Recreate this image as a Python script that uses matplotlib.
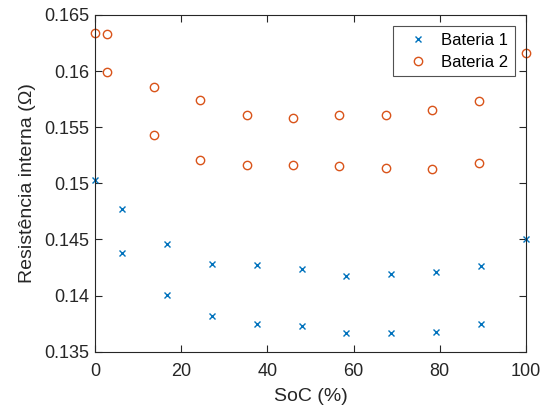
import matplotlib
matplotlib.use("Agg")
import matplotlib.pyplot as plt
from matplotlib.ticker import FuncFormatter

plt.rcParams['font.family'] = ['Liberation Sans', 'DejaVu Sans']

# Internal resistance vs state of charge, two measurement passes per battery
soc_b1 = [0, 6.2, 6.2, 16.6, 16.6, 27.1, 27.1, 37.5, 37.5, 48.0, 48.0,
          58.3, 58.3, 68.7, 68.7, 79.1, 79.1, 89.5, 89.5, 100]
r_b1 = [0.1503, 0.14774, 0.14376, 0.1446, 0.14005, 0.14281, 0.13821,
        0.14272, 0.13747, 0.14237, 0.13732, 0.14172, 0.13669, 0.14192,
        0.13667, 0.14213, 0.13673, 0.14264, 0.13744, 0.14504]

soc_b2 = [0, 2.8, 2.8, 13.6, 13.6, 24.4, 24.4, 35.2, 35.2, 46.0, 46.0,
          56.7, 56.7, 67.5, 67.5, 78.3, 78.3, 89.2, 89.2, 100]
r_b2 = [0.16337, 0.16331, 0.15995, 0.15861, 0.15431, 0.15745, 0.15211,
        0.15606, 0.15161, 0.15585, 0.15161, 0.15606, 0.15155, 0.15609,
        0.1514, 0.15656, 0.1513, 0.15736, 0.15184, 0.16164]

x_ticks = [0, 20, 40, 60, 80, 100]
y_ticks = [0.135, 0.14, 0.145, 0.15, 0.155, 0.16, 0.165]

fig = plt.figure(figsize=(5.51, 4.12), dpi=100)
ax = fig.add_axes([0.1724, 0.1464, 0.9546 - 0.1724, 0.9636 - 0.1464])

ax.plot(soc_b1, r_b1, linestyle='none', marker='x', markersize=5,
        markeredgewidth=1.0, color='#0072BD', label='Bateria 1', clip_on=False)
ax.plot(soc_b2, r_b2, linestyle='none', marker='o', markersize=6,
        markerfacecolor='none', markeredgewidth=1.0, color='#D95319',
        label='Bateria 2', clip_on=False)

ax.set_xlim(0, 100)
ax.set_ylim(0.135, 0.165)
ax.set_xticks(x_ticks)
ax.set_yticks(y_ticks)
ax.yaxis.set_major_formatter(FuncFormatter(lambda v, p: f"{v:g}"))

axis_color = '#262626'
for s in ax.spines.values():
    s.set_color(axis_color)
    s.set_linewidth(0.8)
ax.tick_params(direction='in', top=True, right=True, length=5, width=0.8,
               colors=axis_color, labelsize=13)
ax.tick_params(axis='x', pad=8)
ax.tick_params(axis='y', pad=4)

ax.set_xlabel('SoC (%)', fontsize=14, color=axis_color, labelpad=6)
ax.set_ylabel('Resistência interna (Ω)', fontsize=14, color=axis_color,
              labelpad=6)

leg = ax.legend(loc='upper right', fontsize=12, frameon=True, fancybox=False,
                edgecolor=axis_color, borderaxespad=0.68, handletextpad=0.3,
                borderpad=0.4, labelspacing=0.4, handlelength=2.2)
leg.get_frame().set_linewidth(0.8)

fig.savefig('out.png', dpi=100)
